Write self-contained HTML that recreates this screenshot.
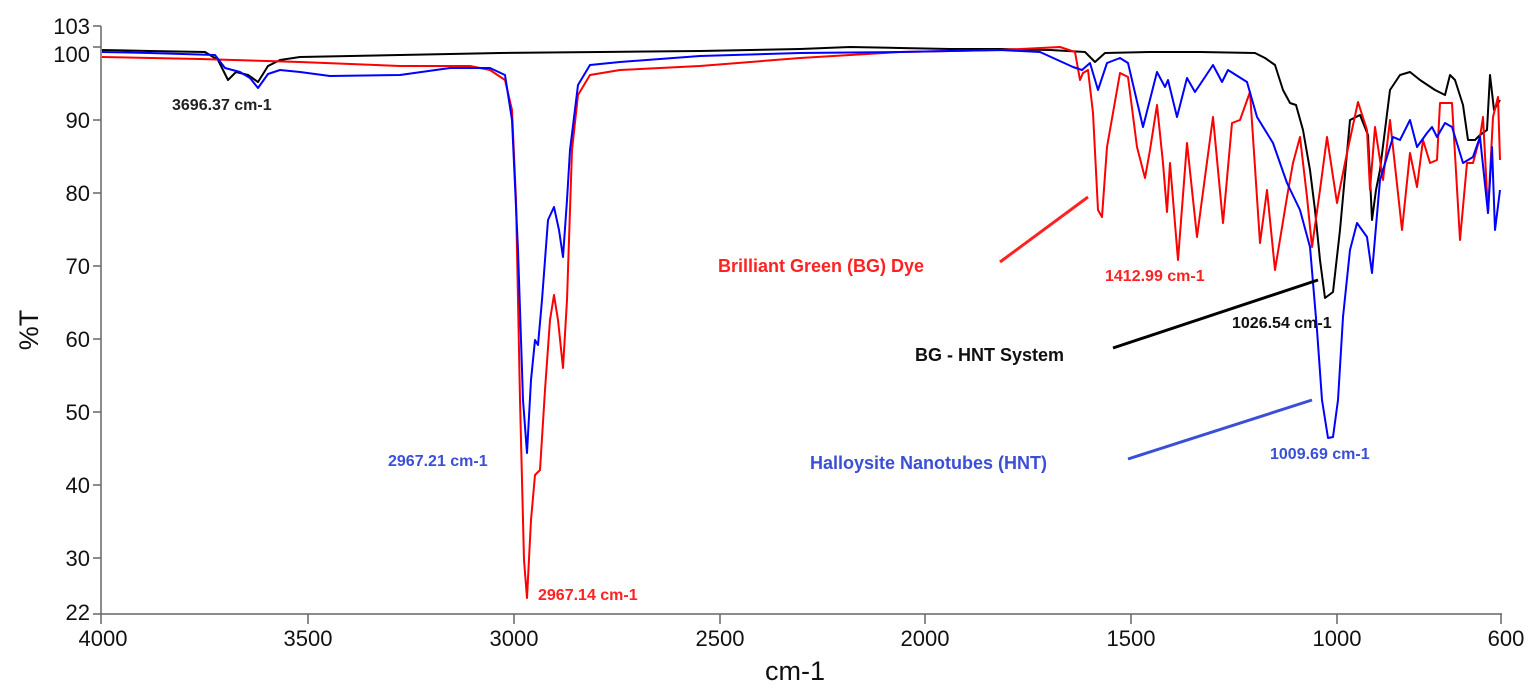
<!DOCTYPE html>
<html><head><meta charset="utf-8"><style>
body{margin:0;background:#fff;}
svg{display:block;font-family:"Liberation Sans",sans-serif;}
.t{font-size:22px;fill:#111;}
.a{font-weight:bold;font-size:16px;}
</style></head><body>
<svg width="1535" height="693" viewBox="0 0 1535 693">
<g stroke="#666" stroke-width="1.5" fill="none">
<line x1="101" y1="26" x2="101" y2="614"/>
<line x1="101" y1="614" x2="1502" y2="614"/>
<line x1="93" y1="26" x2="101" y2="26"/><line x1="93" y1="47" x2="101" y2="47"/>
<line x1="93" y1="120" x2="101" y2="120"/><line x1="93" y1="193" x2="101" y2="193"/>
<line x1="93" y1="266" x2="101" y2="266"/><line x1="93" y1="339" x2="101" y2="339"/>
<line x1="93" y1="412" x2="101" y2="412"/><line x1="93" y1="485" x2="101" y2="485"/>
<line x1="93" y1="558" x2="101" y2="558"/><line x1="93" y1="614" x2="101" y2="614"/>
<line x1="101" y1="614" x2="101" y2="624"/><line x1="308" y1="614" x2="308" y2="624"/>
<line x1="514" y1="614" x2="514" y2="624"/><line x1="720" y1="614" x2="720" y2="624"/>
<line x1="925" y1="614" x2="925" y2="624"/><line x1="1131" y1="614" x2="1131" y2="624"/>
<line x1="1337" y1="614" x2="1337" y2="624"/><line x1="1501" y1="614" x2="1501" y2="624"/>
</g>
<g class="t" text-anchor="end">
<text x="90" y="34">103</text><text x="90" y="62">100</text><text x="90" y="128">90</text>
<text x="90" y="201">80</text><text x="90" y="274">70</text><text x="90" y="347">60</text>
<text x="90" y="420">50</text><text x="90" y="493">40</text><text x="90" y="566">30</text>
<text x="90" y="620">22</text>
</g>
<g class="t" text-anchor="middle">
<text x="103" y="646">4000</text><text x="308" y="646">3500</text><text x="514" y="646">3000</text>
<text x="720" y="646">2500</text><text x="925" y="646">2000</text><text x="1131" y="646">1500</text>
<text x="1337" y="646">1000</text><text x="1506" y="646">600</text>
<text x="795" y="680" style="font-size:27px">cm-1</text>
<text transform="translate(38,330) rotate(-90)" style="font-size:27px">%T</text>
</g>
<g fill="none" stroke-width="2" stroke-linejoin="round">
<polyline stroke="#000" points="102,50 150,51 205,52 218,60 228,80 236,72 248,75 258,82 268,66 280,60 300,57 400,55 500,53 600,52 700,51 800,49 850,47 900,48 950,49 1000,49 1050,50 1085,52 1095,62 1105,53 1150,52 1200,52 1255,53 1265,58 1275,65 1283,90 1290,103 1296,105 1303,130 1310,170 1315,210 1320,260 1325,298 1333,292 1340,230 1345,175 1350,120 1360,115 1368,135 1372,220 1376,190 1380,170 1390,90 1400,75 1410,72 1420,80 1435,90 1445,95 1450,75 1455,80 1463,105 1468,140 1475,140 1480,135 1487,130 1490,75 1494,110 1500,100"/>
<polyline stroke="#f00" points="102,57 200,59 300,62 400,66 470,66 490,70 505,80 512,110 516,200 520,400 524,560 527,598 531,520 535,475 540,470 545,390 550,320 554,295 558,320 563,368 567,300 572,150 578,95 590,75 620,70 700,66 800,58 900,52 1000,50 1060,47 1075,52 1080,80 1083,73 1088,70 1093,113 1098,210 1102,217 1107,147 1120,73 1128,77 1137,147 1145,178 1150,150 1157,105 1163,163 1167,212 1170,163 1178,260 1187,143 1197,237 1213,117 1223,223 1232,123 1240,120 1250,92 1260,243 1267,190 1275,270 1287,197 1293,163 1300,137 1307,197 1312,247 1320,190 1327,137 1337,203 1347,153 1358,102 1367,130 1370,190 1375,127 1383,180 1390,120 1402,230 1410,153 1417,187 1423,140 1430,163 1437,160 1440,103 1452,103 1460,240 1467,163 1473,163 1480,137 1483,117 1488,213 1493,117 1498,97 1500,160"/>
<polyline stroke="#00f" points="102,52 150,53 215,55 225,68 240,72 250,78 258,88 268,74 280,70 300,72 330,76 400,75 450,68 490,68 505,75 512,120 518,250 523,400 527,453 531,380 535,340 538,345 542,300 548,220 554,207 559,230 563,257 567,200 570,150 578,85 590,65 620,62 700,56 800,53 900,52 1000,50 1040,52 1073,67 1082,70 1090,63 1098,90 1107,63 1120,58 1128,63 1143,127 1157,72 1165,87 1168,80 1177,117 1187,78 1195,92 1213,65 1222,82 1228,70 1247,82 1257,117 1273,143 1287,183 1300,210 1310,247 1317,330 1322,400 1328,438 1333,437 1338,400 1343,317 1350,250 1357,223 1367,237 1372,273 1380,180 1393,137 1400,140 1410,120 1417,147 1427,133 1432,127 1437,137 1445,123 1452,127 1463,163 1473,157 1480,137 1488,213 1492,147 1495,230 1500,190"/>
</g>
<g stroke-width="3">
<line x1="1000" y1="262" x2="1088" y2="197" stroke="#f22"/>
<line x1="1113" y1="348" x2="1318" y2="280" stroke="#000"/>
<line x1="1128" y1="459" x2="1312" y2="400" stroke="#3b4fd6"/>
</g>
<g class="a">
<text x="172" y="110" fill="#222">3696.37 cm-1</text>
<text x="388" y="466" fill="#3b4fd6">2967.21 cm-1</text>
<text x="538" y="600" fill="#f22">2967.14 cm-1</text>
<text x="718" y="272" fill="#f22" style="font-size:18px">Brilliant Green (BG) Dye</text>
<text x="1105" y="281" fill="#f22">1412.99 cm-1</text>
<text x="1232" y="328" fill="#111">1026.54 cm-1</text>
<text x="915" y="361" fill="#111" style="font-size:18px">BG - HNT System</text>
<text x="810" y="469" fill="#3b4fd6" style="font-size:18px">Halloysite Nanotubes (HNT)</text>
<text x="1270" y="459" fill="#3b4fd6">1009.69 cm-1</text>
</g>
</svg>
</body></html>
